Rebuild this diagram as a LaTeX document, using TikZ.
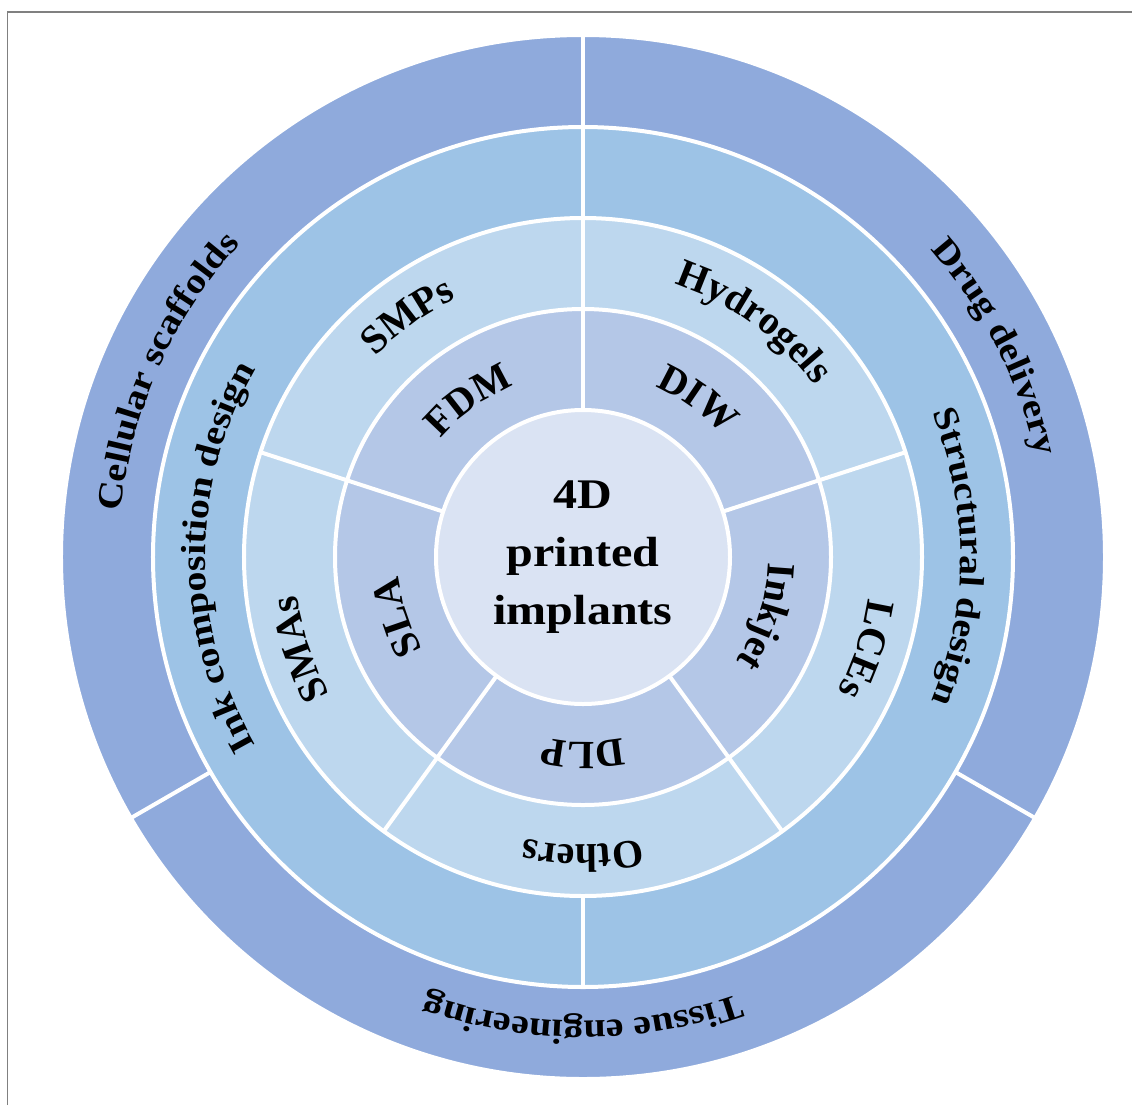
\documentclass[tikz,border=0pt]{standalone}
\usepackage{fontspec}
\setmainfont{Liberation Serif}
\newfontfamily\widefont[FakeStretch=1.14]{Liberation Serif}
\usetikzlibrary{decorations.text}
\definecolor{appblue}{HTML}{8FAADC}
\definecolor{designblue}{HTML}{9DC3E6}
\definecolor{matblue}{HTML}{BDD7EE}
\definecolor{techblue}{HTML}{B4C7E7}
\definecolor{coreblue}{HTML}{DAE3F3}
\newcommand{\outerfont}{\widefont\bfseries\fontsize{19.9}{23}\selectfont}
\newcommand{\innerfont}{\bfseries\fontsize{22.8}{27}\selectfont}
\tikzset{
    sep/.style={draw=white, line width=0.08cm},
    outerlabel/.style={decorate, decoration={text along path, text={|\outerfont|#1}, text align=center}},
    innerlabel/.style={decorate, decoration={text along path, text={|\innerfont|#1}, text align=center}}
}

\begin{document}
\begin{tikzpicture}
    \useasboundingbox (-11.66,-10.96) rectangle (10.98,11.14);
    \draw[line width=0.03cm, black!50] (-11.51,-10.96) -- (-11.51,10.9) -- (10.98,10.9);
    % Rings
    \filldraw[sep, fill=appblue] (0,0) circle (10.44);
    \filldraw[sep, fill=designblue] (0,0) circle (8.6);
    \filldraw[sep, fill=matblue] (0,0) circle (6.78);
    \filldraw[sep, fill=techblue] (0,0) circle (4.96);
    % Outer ring: applications
    \draw[sep] (90:8.6) -- (90:10.5);
    \draw[sep] (210:8.6) -- (210:10.5);
    \draw[sep] (330:8.6) -- (330:10.5);
    % Second ring: design
    \draw[sep] (90:6.78) -- (90:8.6);
    \draw[sep] (270:6.78) -- (270:8.6);
    % Inner rings: materials and techniques
    \draw[sep] (90:2.9) -- (90:6.78);
    \draw[sep] (18:2.9) -- (18:6.78);
    \draw[sep] (-54:2.9) -- (-54:6.78);
    \draw[sep] (-126:2.9) -- (-126:6.78);
    \draw[sep] (162:2.9) -- (162:6.78);
    % Core
    \node[circle, sep, fill=coreblue, minimum size=5.88cm, align=center,
          font=\widefont\bfseries\fontsize{24}{32.9}\selectfont] (core) at (0,0) {4D\\printed\\implants};
    % Outer ring labels
    \path[outerlabel={Cellular scaffolds}] (0,0) ++(216:9.28) arc[start angle=216, end angle=96, radius=9.28];
    \path[outerlabel={Drug delivery}] (0,0) ++(87:9.28) arc[start angle=87, end angle=-33, radius=9.28];
    \path[outerlabel={Tissue engineering}] (0,0) ++(330:9.28) arc[start angle=330, end angle=210, radius=9.28];
    % Second ring labels
    \path[outerlabel={Ink composition design}] (0,0) ++(260:7.55) arc[start angle=260, end angle=100, radius=7.55];
    \path[outerlabel={Structural design}] (0,0) ++(80:7.55) arc[start angle=80, end angle=-80, radius=7.55];
    % Material labels
    \path[innerlabel={SMPs}] (0,0) ++(166:5.76) arc[start angle=166, end angle=86, radius=5.76];
    \path[innerlabel={Hydrogels}] (0,0) ++(94:5.76) arc[start angle=94, end angle=14, radius=5.76];
    \path[innerlabel={LCEs}] (0,0) ++(22:5.76) arc[start angle=22, end angle=-58, radius=5.76];
    \path[innerlabel={Others}] (0,0) ++(310:5.76) arc[start angle=310, end angle=230, radius=5.76];
    \path[innerlabel={SMAs}] (0,0) ++(238:5.76) arc[start angle=238, end angle=158, radius=5.76];
    % Technique labels
    \path[innerlabel={FDM}] (0,0) ++(171:3.7) arc[start angle=171, end angle=81, radius=3.7];
    \path[innerlabel={DIW}] (0,0) ++(99:3.7) arc[start angle=99, end angle=9, radius=3.7];
    \path[innerlabel={Inkjet}] (0,0) ++(27:3.7) arc[start angle=27, end angle=-63, radius=3.7];
    \path[innerlabel={DLP}] (0,0) ++(315:3.7) arc[start angle=315, end angle=225, radius=3.7];
    \path[innerlabel={SLA}] (0,0) ++(243:3.7) arc[start angle=243, end angle=153, radius=3.7];
\end{tikzpicture}
\end{document}
